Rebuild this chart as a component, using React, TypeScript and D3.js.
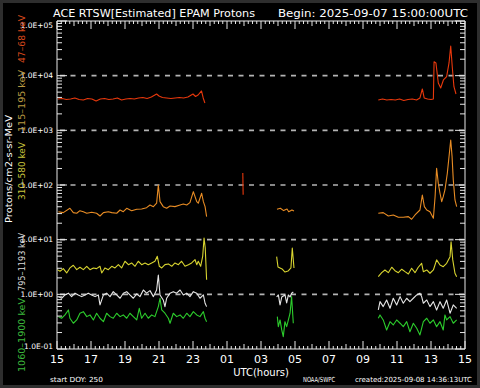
import React from "react";
import * as d3 from "d3";

type P = [number, number];

// hours since 2025-09-07 15:00 UTC, flux (Protons/cm2-s-sr-MeV)
const ch47First: P[] = [
  [0.05, 3740], [0.3, 3830], [0.55, 3670], [0.8, 3740], [1.05, 3910], [1.3, 3670], [1.55, 3590],
  [1.8, 3830], [2.05, 3740], [2.3, 3440], [2.55, 3740], [2.8, 3830], [3.05, 3670], [3.3, 3740],
  [3.55, 3910], [3.8, 3590], [4.05, 3740], [4.3, 3830], [4.55, 3740], [4.8, 3910], [5.05, 3990],
  [5.3, 3830], [5.55, 4070], [5.86, 4620], [6.0, 4250], [6.2, 3990], [6.45, 3910], [6.7, 3830],
  [6.95, 3910], [7.2, 3990], [7.45, 3910], [7.7, 4070], [8.0, 4620], [8.15, 4160], [8.3, 4430],
  [8.5, 5250], [8.6, 3910], [8.7, 3160],
];
const ch47Mid: P[] = [[10.93, 166], [10.95, 66]];
const ch47Last: P[] = [
  [18.9, 3590], [19.15, 3740], [19.4, 3590], [19.65, 3670], [19.9, 3590], [20.15, 3740], [20.4, 3520],
  [20.65, 3670], [20.9, 3740], [21.15, 3590], [21.35, 3910], [21.49, 5710], [21.6, 3910], [21.8, 3740],
  [22.0, 3670], [22.14, 3740], [22.18, 18000], [22.29, 17100], [22.43, 7350], [22.57, 5950],
  [22.73, 8340], [22.92, 9570], [23.06, 17100], [23.16, 34900], [23.25, 14600], [23.35, 6290],
  [23.47, 4620],
];

const ch115First: P[] = [
  [0.08, 32.5], [0.37, 31.2], [0.76, 37.5], [0.96, 31.2], [1.16, 30.4], [1.35, 33.9], [1.55, 32.5],
  [1.75, 30.4], [2.04, 31.7], [2.33, 30.4], [2.53, 27.1], [2.73, 31.2], [3.02, 32.5], [3.22, 31.2],
  [3.51, 30.4], [3.71, 34.9], [3.9, 32.5], [4.1, 37.5], [4.39, 33.9], [4.69, 35.9], [4.98, 36.4],
  [5.27, 38.5], [5.47, 43.1], [5.67, 40.2], [5.86, 46.4], [5.96, 100], [6.06, 49.6], [6.25, 40.2],
  [6.45, 37.5], [6.65, 41.4], [6.94, 40.2], [7.24, 43.1], [7.43, 45.0], [7.63, 43.1], [7.82, 47.5],
  [8.02, 75.5], [8.22, 49.6], [8.31, 46.4], [8.51, 70.6], [8.61, 49.6], [8.71, 40.2], [8.8, 26.4],
];
const ch115Mid: P[] = [
  [12.94, 36], [13.14, 37.5], [13.33, 34], [13.53, 36.4], [13.63, 32.5], [13.82, 35], [13.94, 33.5],
];
const ch115Last: P[] = [
  [18.9, 30.4], [19.19, 31.2], [19.49, 27.1], [19.78, 28.3], [20.08, 25.7], [20.37, 25.7], [20.67, 26.4],
  [20.86, 23.6], [21.06, 28.3], [21.35, 34.9], [21.49, 65.6], [21.61, 40.2], [21.75, 34.9], [21.94, 32.5],
  [22.14, 24.6], [22.24, 61.1], [22.33, 202], [22.43, 107], [22.53, 70.6], [22.63, 49.6], [22.72, 61.1],
  [22.82, 81.1], [22.96, 164], [23.08, 380], [23.16, 666], [23.24, 330], [23.31, 124], [23.41, 53.2],
  [23.51, 40.2],
];

const ch310First: P[] = [
  [0.02, 2.83], [0.18, 2.64], [0.37, 2.95], [0.57, 2.46], [0.76, 3.04], [0.96, 3.4], [1.16, 2.83],
  [1.35, 3.13], [1.55, 2.83], [1.75, 3.26], [1.94, 2.83], [2.14, 3.04], [2.33, 2.95], [2.53, 3.26],
  [2.63, 2.46], [2.82, 3.04], [3.02, 2.83], [3.22, 3.26], [3.41, 3.04], [3.61, 3.49], [3.8, 3.04],
  [4.0, 4.03], [4.2, 3.49], [4.39, 3.75], [4.59, 3.26], [4.78, 4.03], [4.98, 3.49], [5.18, 3.75],
  [5.37, 3.49], [5.57, 3.75], [5.76, 4.03], [5.9, 4.97], [6.02, 3.26], [6.16, 3.04], [6.35, 3.49],
  [6.55, 3.6], [6.75, 3.26], [6.94, 3.75], [7.14, 3.49], [7.33, 4.03], [7.53, 3.26], [7.73, 3.49],
  [7.92, 3.75], [8.12, 4.3], [8.22, 3.49], [8.31, 4.03], [8.45, 3.26], [8.57, 4.97], [8.65, 10.7],
  [8.72, 7.05], [8.8, 1.85],
];
const ch310Mid: P[] = [
  [12.92, 4.89], [13.0, 3.16], [13.24, 2.91], [13.41, 2.56], [13.59, 2.67], [13.76, 3.04], [13.84, 7.05],
  [13.94, 3.04],
];
const ch310Last: P[] = [
  [18.9, 2.1], [19.1, 2.49], [19.29, 2.79], [19.49, 2.49], [19.69, 3.13], [19.88, 2.71], [20.08, 2.49],
  [20.28, 2.88], [20.47, 2.6], [20.67, 2.36], [20.86, 3.0], [21.06, 2.49], [21.25, 3.13], [21.45, 3.7],
  [21.55, 2.6], [21.75, 2.79], [21.94, 2.43], [22.14, 2.79], [22.33, 4.26], [22.53, 3.44], [22.72, 3.21],
  [22.92, 3.7], [23.12, 4.89], [23.18, 9.18], [23.28, 4.26], [23.41, 2.43], [23.51, 2.1],
];

const ch795First: P[] = [
  [0.08, 0.908], [0.27, 0.848], [0.47, 0.975], [0.67, 1.05], [0.86, 0.908], [1.06, 1.05], [1.25, 0.975],
  [1.45, 0.908], [1.65, 0.975], [1.84, 1.05], [2.04, 0.975], [2.24, 0.908], [2.43, 0.975], [2.53, 0.64],
  [2.73, 0.975], [2.92, 1.05], [3.12, 0.908], [3.31, 1.12], [3.51, 0.975], [3.71, 0.848], [3.9, 1.05],
  [4.1, 1.12], [4.29, 0.975], [4.49, 0.848], [4.69, 1.02], [4.88, 0.908], [5.08, 1.2], [5.27, 1.05],
  [5.47, 1.17], [5.67, 0.908], [5.86, 1.2], [5.96, 2.26], [6.06, 0.975], [6.25, 0.789], [6.35, 0.596],
  [6.45, 0.848], [6.65, 1.05], [6.84, 1.12], [7.04, 1.05], [7.24, 1.2], [7.43, 0.975], [7.63, 1.05],
  [7.82, 0.908], [8.02, 1.12], [8.22, 1.05], [8.41, 0.848], [8.61, 0.975], [8.71, 0.687], [8.8, 0.596],
];
const ch795Mid: P[] = [
  [12.92, 0.893], [13.02, 0.975], [13.12, 0.64], [13.22, 0.893], [13.41, 0.975], [13.51, 0.695],
  [13.61, 0.975], [13.71, 0.893], [13.8, 1.05], [13.9, 1.1],
];
const ch795Last: P[] = [
  [18.9, 0.518], [19.0, 0.735], [19.19, 0.596], [19.39, 0.789], [19.59, 0.556], [19.78, 0.848],
  [19.98, 0.64], [20.18, 0.908], [20.37, 0.687], [20.57, 0.848], [20.76, 0.735], [20.96, 0.848],
  [21.16, 0.975], [21.35, 1.05], [21.45, 0.908], [21.55, 0.687], [21.75, 0.789], [21.94, 0.596],
  [22.14, 0.735], [22.33, 0.518], [22.53, 0.735], [22.72, 0.556], [22.92, 0.789], [23.12, 0.451],
  [23.31, 0.64], [23.51, 0.556],
];

const ch1060First: P[] = [
  [0.08, 0.391], [0.27, 0.365], [0.47, 0.42], [0.67, 0.518], [0.76, 0.365], [0.96, 0.296], [1.16, 0.34],
  [1.35, 0.451], [1.55, 0.482], [1.75, 0.391], [1.94, 0.42], [2.14, 0.34], [2.33, 0.451], [2.53, 0.365],
  [2.73, 0.316], [2.92, 0.451], [3.12, 0.391], [3.31, 0.365], [3.51, 0.451], [3.71, 0.391], [3.9, 0.42],
  [4.1, 0.365], [4.29, 0.451], [4.49, 0.391], [4.69, 0.34], [4.84, 0.556], [4.98, 0.365], [5.18, 0.451],
  [5.37, 0.365], [5.57, 0.42], [5.76, 0.391], [5.96, 0.596], [6.06, 0.848], [6.16, 0.518], [6.35, 0.451],
  [6.55, 0.365], [6.65, 0.296], [6.84, 0.451], [7.04, 0.391], [7.24, 0.42], [7.43, 0.365], [7.63, 0.451],
  [7.82, 0.391], [8.02, 0.482], [8.22, 0.42], [8.41, 0.391], [8.61, 0.482], [8.71, 0.365], [8.8, 0.316],
];
const ch1060Mid: P[] = [
  [12.96, 0.391], [13.02, 0.256], [13.12, 0.34], [13.22, 0.223], [13.31, 0.168], [13.41, 0.316],
  [13.51, 0.256], [13.61, 0.34], [13.71, 0.451], [13.8, 0.908], [13.9, 0.296],
];
const ch1060Last: P[] = [
  [18.9, 0.365], [19.0, 0.42], [19.19, 0.34], [19.39, 0.223], [19.59, 0.316], [19.78, 0.275],
  [19.98, 0.34], [20.18, 0.296], [20.37, 0.256], [20.57, 0.316], [20.76, 0.207], [20.96, 0.296],
  [21.16, 0.239], [21.35, 0.181], [21.55, 0.316], [21.75, 0.365], [21.94, 0.296], [22.14, 0.34],
  [22.33, 0.256], [22.53, 0.316], [22.72, 0.223], [22.82, 0.42], [22.92, 0.34], [23.12, 0.391],
  [23.31, 0.296], [23.51, 0.34],
];

const channelNames = ["47\u201368 keV", "115\u2013195 keV", "310\u2013580 keV", "795\u20131193 keV", "1060\u20131900 keV"];
const traceColors = ["#e8380c", "#e88c24", "#d8d430", "#e6e6e6", "#2ccc2c"];
const labelColors = ["#d8481c", "#b89840", "#c8c43c", "#d8d8d8", "#3cb83c"];
const channelData: P[][][] = [
  [ch47First, ch47Mid, ch47Last],
  [ch115First, ch115Mid, ch115Last],
  [ch310First, ch310Mid, ch310Last],
  [ch795First, ch795Mid, ch795Last],
  [ch1060First, ch1060Mid, ch1060Last],
];
const labelCenters = [39, 101, 171, 262, 335];
const labelLengths = [48, 62, 58, 58, 74];

const xTickHours = [0, 2, 4, 6, 8, 10, 12, 14, 16, 18, 20, 22, 24];
const xTickLabels = ["15", "17", "19", "21", "23", "01", "03", "05", "07", "09", "11", "13", "15"];
const yTickValues = [1e5, 1e4, 1e3, 1e2, 1e1, 1e0, 1e-1];
const yTickLabels = ["1.0E+05", "1.0E+04", "1.0E+03", "1.0E+02", "1.0E+01", "1.0E+00", "1.0E-01"];
const gridValues = [1e4, 1e3, 1e2, 1e1, 1e0];

const W = 480, H = 388;
const L = 57, R = 465, T = 21, B = 349;
const FONT = "'DejaVu Sans', sans-serif";

export default function App() {
  const x = d3.scaleLinear().domain([0, 24]).range([L, R]);
  const y = d3.scaleLog().domain([0.1, 1e5]).range([B, T]);
  const line = d3.line<P>().x((d) => x(d[0])).y((d) => y(d[1]));

  const minorY: number[] = [];
  for (let e = -1; e <= 4; e++) for (let k = 2; k <= 9; k++) minorY.push(k * Math.pow(10, e));

  const xTicks: { h: number; len: number }[] = [];
  for (let m = 0; m <= 24 * 60; m += 15) {
    const len = m % 120 === 0 ? 8 : m % 60 === 0 ? 5 : 3;
    xTicks.push({ h: m / 60, len });
  }

  const tickCol = "#e8e8e8";

  return (
    <svg width={W} height={H} style={{ position: "absolute", left: 0, top: 0, display: "block" }}>
      <rect x={0} y={0} width={W} height={H} fill="#2e2e2e" />
      <rect x={3} y={3} width={W - 6} height={H - 6} fill="#000" />

      {/* grid dashed lines */}
      {gridValues.map((v) => (
        <line key={v} x1={L} x2={R} y1={y(v)} y2={y(v)} stroke="#b4b4b4" strokeWidth={1.6} strokeDasharray="5,5.5" strokeDashoffset={-3} />
      ))}

      {/* traces */}
      {channelData.map((segs, i) =>
        segs.map((seg, j) => (
          <path key={`${i}-${j}`} d={line(seg) || ""} fill="none" stroke={traceColors[i]} strokeWidth={1.1} strokeLinejoin="round" />
        ))
      )}

      {/* axes frame */}
      <line x1={L} x2={L} y1={T} y2={B} stroke={tickCol} strokeWidth={1} />
      <line x1={R} x2={R} y1={T} y2={B} stroke={tickCol} strokeWidth={1} />
      <line x1={L} x2={R} y1={T} y2={T} stroke={tickCol} strokeWidth={1} />
      <line x1={L} x2={R} y1={B} y2={B} stroke={tickCol} strokeWidth={1} />

      {/* y ticks */}
      {yTickValues.map((v) => (
        <g key={v}>
          <line x1={L} x2={L + 10} y1={y(v)} y2={y(v)} stroke={tickCol} />
          <line x1={R} x2={R - 10} y1={y(v)} y2={y(v)} stroke={tickCol} />
        </g>
      ))}
      {minorY.map((v) => (
        <g key={`m${v}`}>
          <line x1={L} x2={L + 5} y1={y(v)} y2={y(v)} stroke={tickCol} />
          <line x1={R} x2={R - 5} y1={y(v)} y2={y(v)} stroke={tickCol} />
        </g>
      ))}
      {yTickValues.map((v, i) => (
        <text key={`yl${v}`} x={53} y={Math.min(Math.max(y(v), 25), 346) + 2.5} fill="#fff" fontSize={7.5} fontFamily={FONT} textAnchor="end">
          {yTickLabels[i]}
        </text>
      ))}

      {/* x ticks */}
      {xTicks.map((t) => (
        <g key={`x${t.h}`}>
          <line x1={x(t.h)} x2={x(t.h)} y1={B} y2={B - t.len} stroke={tickCol} />
          <line x1={x(t.h)} x2={x(t.h)} y1={T} y2={T + t.len} stroke={tickCol} />
        </g>
      ))}
      {xTickHours.map((h, i) => (
        <text key={`xl${h}`} x={x(h)} y={363} fill="#fff" fontSize={11} fontFamily={FONT} textAnchor="middle">
          {xTickLabels[i]}
        </text>
      ))}

      {/* titles */}
      <text x={53} y={17} fill="#fff" fontSize={11} fontFamily={FONT} textLength={202} lengthAdjust="spacingAndGlyphs">
        ACE RTSW[Estimated] EPAM Protons
      </text>
      <text x={278} y={17} fill="#fff" fontSize={11} fontFamily={FONT} textLength={190} lengthAdjust="spacingAndGlyphs">
        Begin: 2025-09-07 15:00:00UTC
      </text>
      <text x={261} y={376} fill="#fff" fontSize={10} fontFamily={FONT} textAnchor="middle">
        UTC(hours)
      </text>
      <text x={50} y={382} fill="#fff" fontSize={7} fontFamily={FONT} textLength={53} lengthAdjust="spacingAndGlyphs">
        start DOY:  250
      </text>
      <text x={303} y={382} fill="#fff" fontSize={7} fontFamily={FONT} textLength={32} lengthAdjust="spacingAndGlyphs">
        NOAA/SWPC
      </text>
      <text x={355} y={382} fill="#fff" fontSize={7} fontFamily={FONT} textLength={117} lengthAdjust="spacingAndGlyphs">
        created:2025-09-08 14:36:13UTC
      </text>

      {/* rotated y-axis titles */}
      <text transform={`translate(12,169) rotate(-90)`} fill="#fff" fontSize={8.5} fontFamily={FONT} textAnchor="middle" textLength={108} lengthAdjust="spacingAndGlyphs">
        Protons/cm2-s-sr-MeV
      </text>
      {channelNames.map((n, i) => (
        <text key={n} transform={`translate(25,${labelCenters[i]}) rotate(-90)`} fill={labelColors[i]} fontSize={8.5} fontFamily={FONT} textAnchor="middle" textLength={labelLengths[i]} lengthAdjust="spacingAndGlyphs">
          {n}
        </text>
      ))}
    </svg>
  );
}
